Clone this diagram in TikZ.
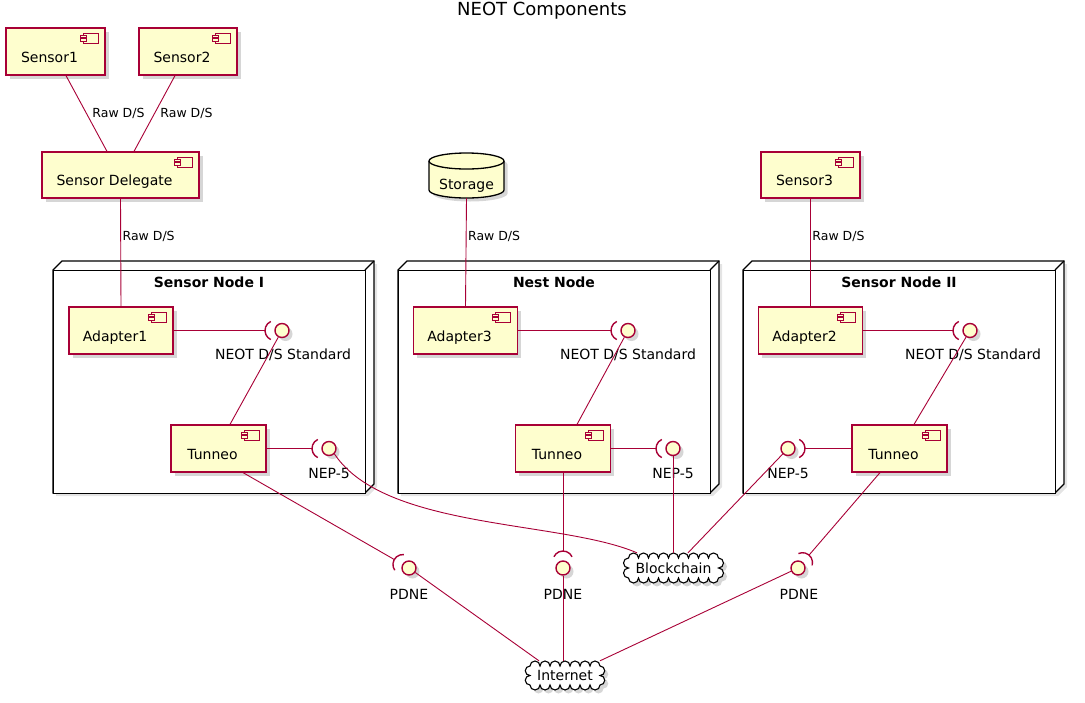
\documentclass[tikz,border=0pt]{standalone}
\usepackage{fontspec}
\setmainfont{DejaVu Sans}
\usetikzlibrary{calc,shadows}
\definecolor{pborder}{HTML}{A80036}
\definecolor{pfill}{HTML}{FEFECE}
\newcommand\clab[1]{\makebox[0pt]{#1\hspace{12pt}}}
\tikzset{
  every node/.style={font=\fontsize{14}{16}\selectfont},
  shad/.style={drop shadow={shadow xshift=3.5pt,shadow yshift=-3.5pt,fill=black!40,opacity=0.4}},
  comp/.style={draw=pborder, fill=pfill, line width=1.2pt, shad, rectangle, inner sep=0pt,
    minimum height=47pt, text height=25pt, text depth=4pt,
    path picture={
      \coordinate (ic) at ([xshift=-22pt,yshift=-5pt]path picture bounding box.north east);
      \draw[draw=pborder,line width=1pt,fill=pfill] (ic) rectangle ++(15,-10);
      \draw[draw=pborder,line width=1pt,fill=pfill] ($(ic)+(-3,-2)$) rectangle ++(6,-2.5);
      \draw[draw=pborder,line width=1pt,fill=pfill] ($(ic)+(-3,-5.5)$) rectangle ++(6,-2.5);
    }},
  iface/.style={circle, draw=pborder, fill=pfill, line width=1.4pt, minimum size=14pt, inner sep=0pt, shad},
  ilabel/.style={inner sep=0pt},
  conn/.style={draw=pborder, line width=0.9pt},
  sockarc/.style={draw=pborder, line width=1.4pt},
  elabel/.style={font=\fontsize{12.5}{14}\selectfont, inner sep=0pt, anchor=west},
  frsty/.style={draw=black, line width=1.3pt, fill=white, line join=miter},
  ftitle/.style={font=\fontsize{14}{16}\selectfont\bfseries, inner sep=0pt},
  cloudsty/.style={draw=black, line width=1.1pt, fill=white, shad},
}
% socket: #1 interface node, #2 angle towards connector, #3 coordinate name
\newcommand\sock[3]{%
  \pgfmathsetmacro\sa{#2-65}\pgfmathsetmacro\se{#2+65}%
  \draw[sockarc] ($(#1)+(#2:7)+(\sa:10)$) arc[start angle=\sa, end angle=\se, radius=10];
  \coordinate (#3) at ($(#1)+(#2:17)$);}
% 3D node box: #1 name, #2 x left, #3 x right, #4 title
\newcommand\ndbox[4]{%
  \draw[frsty, drop shadow={shadow xshift=3pt,shadow yshift=-3pt,fill=black!30,opacity=0.35}]
    (#2,-270) -- (#2+9,-261) -- (#3+9,-261) -- (#3+9,-484) -- (#3,-493) -- (#2,-493) -- cycle;
  \node[draw=black, line width=1.3pt, fill=white, inner sep=0pt, anchor=north west,
    minimum width=#3-#2, minimum height=223] (#1) at (#2,-270) {};
  \draw[frsty, fill=none] (#3,-270) -- (#3+9,-261);
  \node[ftitle] (#1t) at ({(#2+#3)/2},-282) {#4};}
% cloud: #1 name, #2 cx, #3 cy, #4 n, #5 m, #6 rt, #7 rs, #8 text
\newcommand\cloudnode[8]{%
  \pgfmathsetmacro\cw{2*#4*#6}\pgfmathsetmacro\ch{2*#5*#7}%
  \draw[cloudsty] (#2-\cw/2,#3+\ch/2)
    \foreach \i in {1,...,#4}{ arc[start angle=180,end angle=0,radius=#6] }
    \foreach \i in {1,...,#5}{ arc[start angle=90,end angle=-90,radius=#7] }
    \foreach \i in {1,...,#4}{ arc[start angle=0,end angle=-180,radius=#6] }
    \foreach \i in {1,...,#5}{ arc[start angle=-90,end angle=-270,radius=#7] } -- cycle;
  \node[inner sep=0pt, minimum width=\cw pt, minimum height=\ch pt] (#1) at (#2,#3) {#8};}

\begin{document}
\begin{tikzpicture}[x=1pt,y=1pt]
\useasboundingbox (0,0) rectangle (1085,-702);
\node[font=\fontsize{18}{21}\selectfont] (title) at (542,-11) {NEOT Components};

% node frames
\ndbox{n1}{53}{365}{Sensor Node I}
\ndbox{n3}{398}{710}{Nest Node}
\ndbox{n2}{743}{1055}{Sensor Node II}

% components
\node[comp, minimum width=99] (s1) at (55.5,-51.5) {\clab{Sensor1}};
\node[comp, minimum width=98] (s2) at (188,-51.5) {\clab{Sensor2}};
\node[comp, minimum width=157, minimum height=46] (sd) at (120.5,-175) {\clab{Sensor Delegate}};
\node[comp, minimum width=99, minimum height=46] (s3) at (810.5,-175) {\clab{Sensor3}};
\node[comp, minimum width=104] (a1) at (121,-330.5) {\clab{Adapter1}};
\node[comp, minimum width=95] (t1) at (218.5,-448.5) {\clab{Tunneo}};
\node[comp, minimum width=104] (a3) at (465.5,-330.5) {\clab{Adapter3}};
\node[comp, minimum width=95] (t3) at (563,-448.5) {\clab{Tunneo}};
\node[comp, minimum width=104] (a2) at (810.5,-330.5) {\clab{Adapter2}};
\node[comp, minimum width=95] (t2) at (899.5,-448.5) {\clab{Tunneo}};

% storage (database)
\draw[draw=black, line width=1.3pt, fill=pfill, shad] (429,-161) -- (429,-190)
  arc[start angle=180,end angle=360,x radius=37.5,y radius=8] -- (504,-161)
  arc[start angle=0,end angle=180,x radius=37.5,y radius=8] -- cycle;
\draw[draw=black, line width=1.3pt] (429,-161) arc[start angle=180,end angle=360,x radius=37.5,y radius=8];
\node[inner sep=0pt, minimum width=75, minimum height=46, text height=32pt, text depth=4pt] (st) at (466.5,-175) {Storage};

% interfaces
\node[iface] (neot1) at (282,-330.5) {};
\node[iface] (nep1) at (329,-448.5) {};
\node[iface] (neot3) at (628,-330.5) {};
\node[iface] (nep3) at (673,-448.5) {};
\node[iface] (neot2) at (970,-330.5) {};
\node[iface] (nep2) at (788,-448.5) {};
\node[iface] (pd1) at (409,-568) {};
\node[iface] (pd3) at (563,-568) {};
\node[iface] (pd2) at (798,-568) {};
\sock{neot1}{180}{neot1s}
\sock{nep1}{180}{nep1s}
\sock{neot3}{180}{neot3s}
\sock{nep3}{180}{nep3s}
\sock{neot2}{180}{neot2s}
\sock{nep2}{0}{nep2s}
\sock{pd1}{150}{pd1s}
\sock{pd3}{90}{pd3s}
\sock{pd2}{49.5}{pd2s}
\node[ilabel] (neot1l) at (283,-355) {NEOT D/S Standard};
\node[ilabel] (neot3l) at (628,-355) {NEOT D/S Standard};
\node[ilabel] (neot2l) at (973,-355) {NEOT D/S Standard};
\node[ilabel] (nep1l) at (329,-473) {NEP-5};
\node[ilabel] (nep3l) at (673,-473) {NEP-5};
\node[ilabel] (nep2l) at (788,-473) {NEP-5};
\node[ilabel] (pd1l) at (409,-594) {PDNE};
\node[ilabel] (pd3l) at (563,-594) {PDNE};
\node[ilabel] (pd2l) at (799,-594) {PDNE};

% clouds
\cloudnode{bc}{673.5}{-568}{9}{2}{5}{5}{Blockchain}
\cloudnode{inet}{565}{-675.5}{7}{2}{5}{4.75}{Internet}

% connectors
\draw[conn] ($(s1.south)+(10.5,0)$) -- ($(sd.north)+(-13.5,0)$) node[elabel, pos=0.5, xshift=5.5pt] {Raw D/S};
\draw[conn] ($(s2.south)+(-13,0)$) -- ($(sd.north)+(13.5,0)$) node[elabel, pos=0.5, xshift=5.5pt] {Raw D/S};
\draw[conn] (sd.south) -- (a1.north) node[elabel, pos=0.35, xshift=1.5pt] {Raw D/S};
\draw[conn] (st.south) -- (a3.north) node[elabel, pos=0.35, xshift=1.5pt] {Raw D/S};
\draw[conn] (s3.south) -- (a2.north) node[elabel, pos=0.35, xshift=1.5pt] {Raw D/S};

\draw[conn] (a1.east) -- (neot1s);
\draw[conn] (a3.east) -- (neot3s);
\draw[conn] (a2.east) -- (neot2s);
\draw[conn] (neot1) -- ($(t1.north)+(11.5,0)$);
\draw[conn] (neot3) -- ($(t3.north)+(14,0)$);
\draw[conn] (neot2) -- ($(t2.north)+(14.5,0)$);
\draw[conn] (t1.east) -- (nep1s);
\draw[conn] (t3.east) -- (nep3s);
\draw[conn] (t2.west) -- (nep2s);
\draw[conn] ($(t1.south)+(24.5,0)$) -- (pd1s);
\draw[conn] (t3.south) -- (pd3s);
\draw[conn] ($(t2.south)+(-19.5,0)$) -- (pd2s);

\draw[conn] (nep1.-45) .. controls (385,-530) and (560,-520) .. ($(bc.north)+(-36.5,5)$);
\draw[conn] (nep3) -- ($(bc.north)+(-0.5,5)$);
\draw[conn] (nep2) -- ($(bc.north)+(14.5,5)$);
\draw[conn] (pd1) -- ($(inet.north)+(-26,5)$);
\draw[conn] (pd3) -- ($(inet.north)+(-2,5)$);
\draw[conn] (pd2) -- ($(inet.north)+(35,5)$);
\end{tikzpicture}
\end{document}
